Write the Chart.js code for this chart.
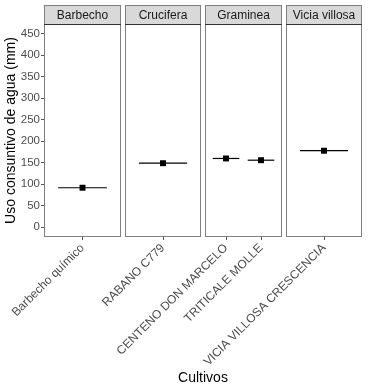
<!DOCTYPE html>
<html>
<head>
<meta charset="utf-8">
<script src="https://cdn.jsdelivr.net/npm/chart.js@4.4.1/dist/chart.umd.min.js"></script>
<style>
  body { margin: 0; background: #fff; }
  #wrap { position: relative; width: 369px; height: 384px; font-family: "Liberation Sans", Arial, sans-serif; }
  #wrap canvas { position: absolute; left: 0; top: 0; }
  #xTitle { position: absolute; left: 44px; width: 318px; top: 369px; text-align: center; font-size: 14px; color: #000; }
</style>
</head>
<body>
<div id="wrap">
  <canvas id="panel0" width="369" height="384"></canvas>
  <canvas id="panel1" width="369" height="384"></canvas>
  <canvas id="panel2" width="369" height="384"></canvas>
  <canvas id="panel3" width="369" height="384"></canvas>
  <div id="xTitle">Cultivos</div>
</div>
<script>
// datos
const grupos = ['Barbecho', 'Crucifera', 'Graminea', 'Vicia villosa'];
const cultivos = ['Barbecho químico', 'RABANO C779', 'CENTENO DON MARCELO', 'TRITICALE MOLLE', 'VICIA VILLOSA CRESCENCIA'];
const grupoDeCultivo = ['Barbecho', 'Crucifera', 'Graminea', 'Graminea', 'Vicia villosa'];
const usoConsuntivo = [92, 149, 160, 156, 178];
const yTicks = [0, 50, 100, 150, 200, 250, 300, 350, 400, 450];

Chart.defaults.font.family = '"Liberation Sans", Arial, sans-serif';
Chart.defaults.animation = false;

// posicion de cada panel (px)
const panelLeft = [44, 125, 205, 286];
const panelRight = [121, 201, 282, 362];
const stripTop = 5;
const halfWidth = 0.38;

// marco del panel + tira gris con el nombre del grupo
const facetPlugin = {
  id: 'facet',
  afterDatasetsDraw(chart, args, opts) {
    const a = chart.chartArea;
    const ctx = chart.ctx;
    ctx.save();
    ctx.fillStyle = '#d9d9d9';
    ctx.fillRect(a.left, stripTop, a.right - a.left, a.top - stripTop);
    ctx.strokeStyle = '#7f7f7f';
    ctx.lineWidth = 1;
    ctx.strokeRect(a.left + 0.5, stripTop + 0.5, a.right - a.left - 1, a.top - stripTop);
    ctx.strokeRect(a.left + 0.5, a.top + 0.5, a.right - a.left - 1, a.bottom - a.top - 1);
    ctx.strokeStyle = '#333';
    ctx.beginPath();
    ctx.moveTo(a.left, a.top + 0.5);
    ctx.lineTo(a.right, a.top + 0.5);
    ctx.stroke();
    ctx.fillStyle = '#1a1a1a';
    ctx.font = '12px "Liberation Sans", Arial, sans-serif';
    ctx.textAlign = 'center';
    ctx.textBaseline = 'middle';
    ctx.fillText(opts.label, (a.left + a.right) / 2, (stripTop + a.top) / 2 + 1);
    ctx.restore();
  }
};

grupos.forEach((g, p) => {
  const etiquetas = cultivos.filter((c, i) => grupoDeCultivo[i] === g);
  const valores = usoConsuntivo.filter((v, i) => grupoDeCultivo[i] === g);

  const datasets = valores.map((v, j) => ({
    data: [{ x: j + 1 - halfWidth, y: v }, { x: j + 1 + halfWidth, y: v }],
    showLine: true,
    borderColor: '#000',
    borderWidth: 1.2,
    pointRadius: 0
  }));
  datasets.push({
    data: valores.map((v, j) => ({ x: j + 1, y: v })),
    pointStyle: 'rect',
    pointRadius: 4.2,
    backgroundColor: '#000',
    borderWidth: 0
  });

  const first = p === 0;

  new Chart(document.getElementById('panel' + p), {
    type: 'scatter',
    data: { datasets: datasets },
    plugins: [facetPlugin],
    options: {
      responsive: false,
      layout: {
        padding: { left: first ? 0 : panelLeft[p], right: 369 - panelRight[p], top: 24, bottom: 0 }
      },
      plugins: {
        legend: { display: false },
        tooltip: { enabled: false },
        facet: { label: g }
      },
      scales: {
        x: {
          type: 'linear',
          min: 0.4,
          max: etiquetas.length + 0.6,
          afterBuildTicks: s => { s.ticks = etiquetas.map((e, j) => ({ value: j + 1 })); },
          // las etiquetas pueden salirse del panel, no reservar espacio
          afterFit: s => { s.height = 147; s.paddingLeft = 0; s.paddingRight = 0; },
          border: { display: false },
          grid: { drawOnChartArea: false, tickLength: 3, color: '#555' },
          ticks: {
            autoSkip: false,
            minRotation: 45,
            maxRotation: 45,
            padding: 1,
            color: '#4d4d4d',
            font: { size: 12 },
            callback: v => etiquetas[Math.round(v) - 1]
          }
        },
        y: {
          display: first,
          min: -22.5,
          max: 472.5,
          afterBuildTicks: s => { s.ticks = yTicks.map(v => ({ value: v })); },
          afterFit: s => { s.width = first ? panelLeft[0] : 0; },
          border: { display: false },
          grid: { drawOnChartArea: false, tickLength: 3, color: '#555' },
          ticks: { padding: 1, color: '#4d4d4d', font: { size: 11.5 } },
          title: {
            display: true,
            text: 'Uso consuntivo de agua (mm)',
            color: '#000',
            font: { size: 14 },
            padding: { top: 3, bottom: 0 }
          }
        }
      }
    }
  });
});
</script>
</body>
</html>
